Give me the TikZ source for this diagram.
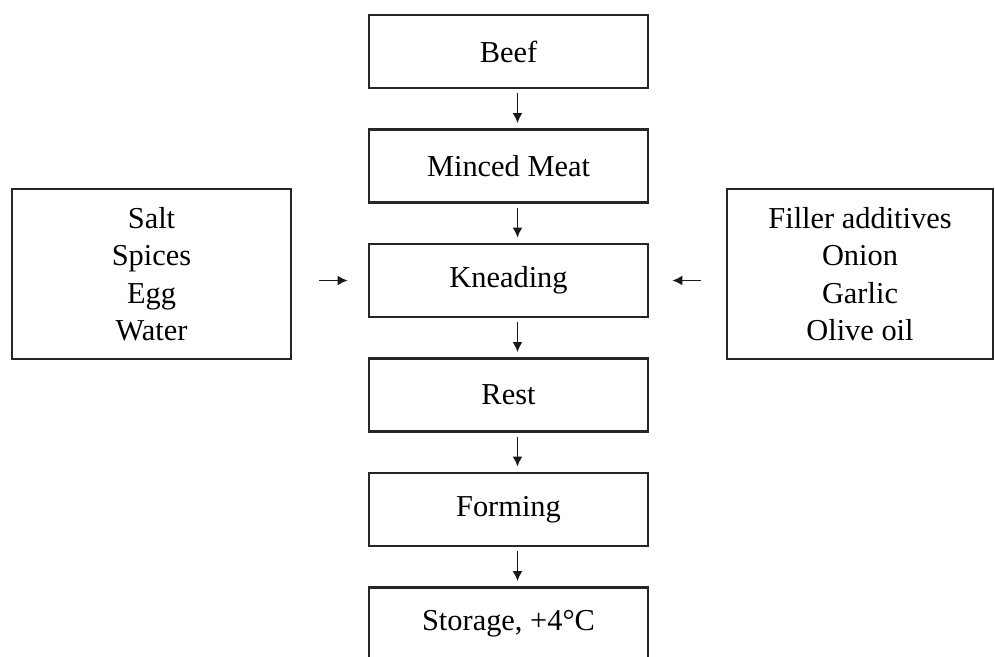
\documentclass[tikz,border=0pt]{standalone}
\usepackage{fontspec}
\setmainfont{Liberation Serif}
\usetikzlibrary{arrows.meta}

\begin{document}
\begin{tikzpicture}[x=0.5pt, y=-0.5pt,
  stepbox/.style={draw=black!85, line width=1.4pt, fill=white, minimum width=139.5pt, minimum height=36.5pt, inner sep=0pt, align=center, font=\fontsize{15.2}{18.75}\selectfont},
  sidebox/.style={stepbox, minimum height=85pt},
  arrow/.style={-{Latex[length=5pt,width=5pt]}, line width=0.9pt, black!90},
  downarrow/.style={arrow, shorten <=2pt, shorten >=2.5pt}
]
\useasboundingbox[fill=white] (0,0) rectangle (995,657);

% Main line
\node[stepbox] (beef) at (508.5, 51.5) {Beef};
\node[stepbox] (mince) at (508.5, 166) {Minced Meat};
\node[stepbox] (knead) at (508.5, 280.5) {Kneading};
\node[stepbox] (rest) at (508.5, 395) {Rest};
\node[stepbox] (forming) at (508.5, 509.5) {Forming};
\node[stepbox] (storage) at (508.5, 624) {Storage, +4°C};

\foreach \a/\b in {beef/mince, mince/knead, knead/rest, rest/forming, forming/storage}
  \draw[downarrow] ([xshift=4.5pt]\a.south) -- ([xshift=4.5pt]\b.north);

% Added ingredients
\node[sidebox] (basics) at (151.5, 274) {Salt\\Spices\\Egg\\Water};
\node[sidebox, minimum width=133pt] (fillers) at (860, 274) {Filler additives\\Onion\\Garlic\\Olive oil};

\draw[arrow, shorten <=13.5pt, shorten >=10pt] (basics.east |- knead) -- (knead.west);
\draw[arrow, shorten <=12.5pt, shorten >=11.5pt] (fillers.west |- knead) -- (knead.east);

\end{tikzpicture}
\end{document}
